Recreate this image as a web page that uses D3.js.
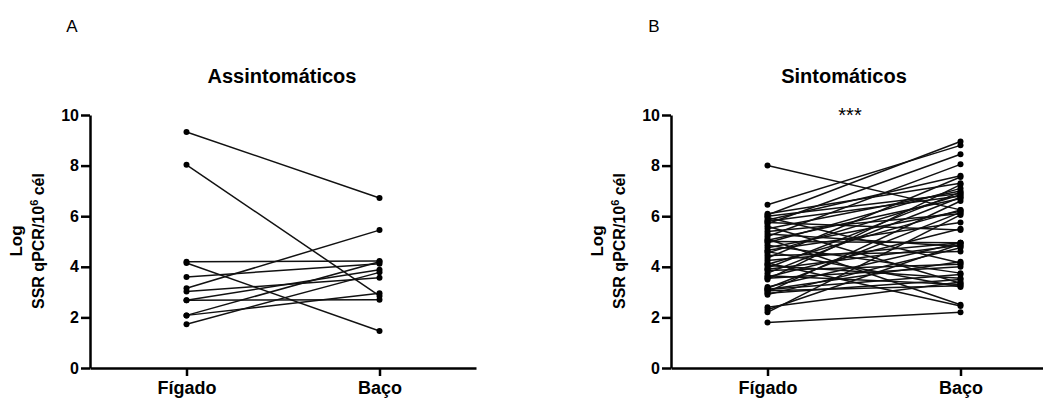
<!DOCTYPE html>
<html>
<head>
<meta charset="utf-8">
<script src="https://cdn.jsdelivr.net/npm/d3@7"></script>
<style>
  body { margin: 0; background: #fff; }
  svg { display: block; font-family: Arial, "Liberation Sans", sans-serif; }
</style>
</head>
<body>
<div id="chart"></div>
<script>
// categorias e ticks
var categories = ["Fígado", "Baço"];
var yTicks = [0, 2, 4, 6, 8, 10];

// A - assintomaticos (pares figado -> baco)
var assintFigado = [9.33, 8.03, 4.20, 4.15, 3.60, 3.15, 3.02, 2.68, 2.68, 2.08, 2.08, 1.73];
var assintBaco   = [6.72, 2.85, 4.23, 1.46, 4.12, 5.45, 3.57, 2.70, 3.88, 4.20, 2.95, 3.78];

// B - sintomaticos
var sintFigado = [8.00, 6.45, 6.10, 6.05, 6.00, 5.95, 5.85, 5.80, 5.75, 5.70,
                  5.60, 5.50, 5.40, 5.30, 5.20, 5.10, 5.05, 5.00, 4.95, 4.85,
                  4.75, 4.65, 4.60, 4.55, 4.45, 4.35, 4.25, 4.15, 4.10, 4.05,
                  3.95, 3.90, 3.85, 3.75, 3.65, 3.60, 3.55, 3.50, 3.20, 3.15,
                  3.10, 3.10, 3.05, 3.00, 2.95, 2.90, 2.40, 2.30, 2.20, 1.80];
var sintBaco   = [6.25, 8.80, 7.30, 8.95, 6.90, 4.15, 7.60, 6.80, 5.45, 8.45,
                  3.35, 7.00, 6.10, 4.80, 8.05, 2.50, 6.70, 4.95, 7.10, 3.75,
                  6.20, 5.75, 3.20, 6.85, 4.60, 7.55, 4.95, 2.45, 6.25, 3.55,
                  6.95, 4.85, 4.10, 6.75, 3.30, 5.50, 4.00, 7.25, 4.95, 6.15,
                  3.70, 4.20, 3.25, 6.60, 3.50, 4.75, 3.40, 4.90, 6.05, 2.20];

var width = 1043, height = 398;

var svg = d3.select("#chart").append("svg")
    .attr("width", width)
    .attr("height", height);

function styleAxis(a, size) {
    a.attr("font-size", size).attr("font-family", "Arial, 'Liberation Sans', sans-serif");
    a.select(".domain").attr("stroke", "#000").attr("stroke-width", 2.5);
    a.selectAll(".tick line").attr("stroke", "#000").attr("stroke-width", 2.5);
    a.selectAll(".tick text")
        .attr("fill", "#000")
        .attr("font-weight", "bold")
        .attr("font-size", size);
}

function panel(opts) {
    var g = svg.append("g");

    var x = d3.scalePoint()
        .domain(categories)
        .range([opts.left, opts.left + 386])
        .padding(0.5);

    var y = d3.scaleLinear()
        .domain([0, 10])
        .range([368, 115]);

    var pairs = opts.figado.map(function (v, i) {
        return [v, opts.baco[i]];
    });

    // linhas
    g.append("g")
        .selectAll("line")
        .data(pairs)
        .enter()
        .append("line")
        .attr("x1", x(categories[0]))
        .attr("x2", x(categories[1]))
        .attr("y1", function (d) { return y(d[0]); })
        .attr("y2", function (d) { return y(d[1]); })
        .style("stroke", "#111")
        .style("stroke-width", 1.5);

    // pontos
    var pts = [];
    pairs.forEach(function (d) {
        pts.push({ c: categories[0], v: d[0] });
        pts.push({ c: categories[1], v: d[1] });
    });
    g.append("g")
        .selectAll("circle")
        .data(pts)
        .enter()
        .append("circle")
        .attr("cx", function (d) { return x(d.c); })
        .attr("cy", function (d) { return y(d.v); })
        .attr("r", 3)
        .style("fill", "#000");

    // eixos
    var yAxis = g.append("g")
        .attr("transform", "translate(" + opts.left + ",0)")
        .call(d3.axisLeft(y).tickValues(yTicks).tickSize(9).tickSizeOuter(0).tickPadding(2));
    styleAxis(yAxis, 16);

    var xAxis = g.append("g")
        .attr("transform", "translate(0,368)")
        .call(d3.axisBottom(x).tickSize(8).tickSizeOuter(0).tickPadding(5));
    styleAxis(xAxis, 18);

    // rotulo do eixo y
    var cy = 241;
    g.append("text")
        .attr("transform", "translate(" + (opts.left - 68) + "," + cy + ") rotate(-90)")
        .attr("text-anchor", "middle")
        .attr("font-size", 17)
        .attr("font-weight", "bold")
        .text("Log");
    var lab = g.append("text")
        .attr("transform", "translate(" + (opts.left - 46) + "," + cy + ") rotate(-90)")
        .attr("text-anchor", "middle")
        .attr("font-size", 16)
        .attr("font-weight", "bold");
    lab.append("tspan").text("SSR qPCR/10");
    lab.append("tspan").attr("dy", -6).attr("font-size", 11).text("6");
    lab.append("tspan").attr("dy", 6).text(" cél");

    // titulo e letra
    g.append("text")
        .attr("x", opts.titleX)
        .attr("y", 83)
        .attr("text-anchor", "middle")
        .attr("font-size", 20)
        .attr("font-weight", "bold")
        .text(opts.title);

    g.append("text")
        .attr("x", opts.letterX)
        .attr("y", 32)
        .attr("text-anchor", "middle")
        .attr("font-size", 17)
        .text(opts.letter);

    if (opts.stars) {
        g.append("text")
            .attr("x", opts.titleX + 6)
            .attr("y", 122)
            .attr("text-anchor", "middle")
            .attr("font-size", 20)
            .text(opts.stars);
    }
}

panel({ left: 90, figado: assintFigado, baco: assintBaco,
        title: "Assintomáticos", titleX: 282, letter: "A", letterX: 72 });
panel({ left: 671, figado: sintFigado, baco: sintBaco,
        title: "Sintomáticos", titleX: 844, letter: "B", letterX: 654, stars: "***" });
</script>
</body>
</html>
